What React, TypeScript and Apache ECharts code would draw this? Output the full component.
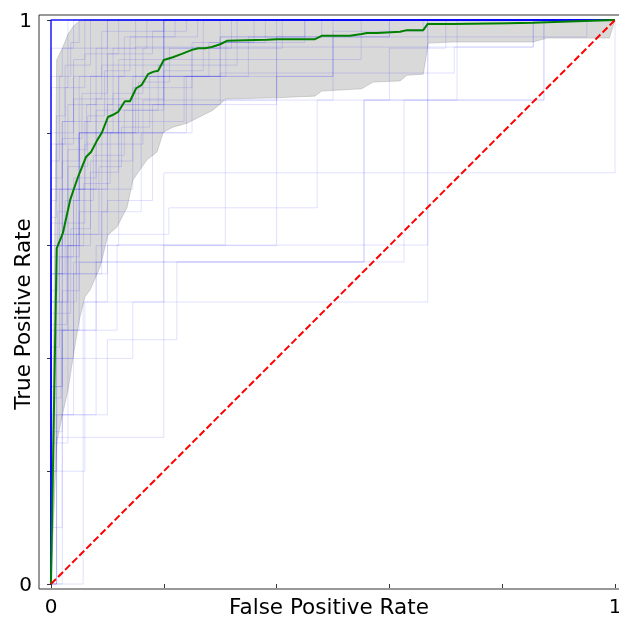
import React, { useEffect, useRef } from 'react';
import * as echarts from 'echarts';

// Mean ROC curve (green)
const MEAN_FPR = [0, 0.0101, 0.021, 0.034, 0.048, 0.062, 0.071, 0.082, 0.09, 0.101, 0.11, 0.119, 0.131, 0.14, 0.151, 0.161, 0.172, 0.181, 0.19, 0.2, 0.216, 0.232, 0.25, 0.261, 0.273, 0.285, 0.3, 0.312, 0.383, 0.401, 0.468, 0.48, 0.53, 0.551, 0.56, 0.578, 0.619, 0.631, 0.66, 0.668, 0.713, 0.855, 0.879, 1];
const MEAN_TPR = [0, 0.595, 0.622, 0.681, 0.722, 0.757, 0.766, 0.787, 0.8, 0.828, 0.832, 0.837, 0.856, 0.856, 0.879, 0.885, 0.904, 0.908, 0.91, 0.929, 0.934, 0.94, 0.947, 0.95, 0.95, 0.952, 0.957, 0.963, 0.965, 0.966, 0.966, 0.972, 0.972, 0.975, 0.977, 0.977, 0.979, 0.982, 0.982, 0.993, 0.993, 0.995, 0.996, 1];

// Confidence band (mean ± std)
const BAND_UPPER = [[0, 0], [0.0101, 0.929], [0.0202, 0.95], [0.0303, 0.975], [0.0404, 0.99], [0.0505, 0.998], [0.0606, 1], [1, 1]];
const BAND_LOWER = [[0, 0], [0.0101, 0.25], [0.0202, 0.3], [0.0303, 0.345], [0.0404, 0.41], [0.0505, 0.47], [0.0606, 0.51], [0.069, 0.521], [0.087, 0.562], [0.101, 0.619], [0.117, 0.633], [0.135, 0.668], [0.145, 0.716], [0.17, 0.752], [0.188, 0.766], [0.199, 0.801], [0.216, 0.81], [0.241, 0.817], [0.287, 0.84], [0.31, 0.86], [0.4, 0.862], [0.441, 0.864], [0.468, 0.865], [0.48, 0.874], [0.551, 0.878], [0.571, 0.89], [0.619, 0.892], [0.631, 0.902], [0.66, 0.904], [0.669, 0.959], [0.713, 0.961], [0.855, 0.961], [0.879, 0.968], [0.99, 0.968], [1, 1]];

const CHANCE = [[0, 0], [1, 1]];
const PERFECT = [[0, 0], [0, 1], [1, 1]];

// Bootstrap ROC curves: each [fpr, tpr] = at this FPR the TPR rises to this value
const BOOT_CURVES = [
  [[0.01, 0.26], [0.2, 0.729], [1, 1]],
  [[0, 0.35], [0.02, 0.62], [0.05, 0.8], [0.15, 0.952], [0.855, 1]],
  [[0, 0.4], [0.03, 0.7], [0.1, 0.85], [0.3, 0.906], [0.715, 0.952], [0.855, 1]],
  [[0, 0.3], [0.04, 0.571], [0.626, 0.858], [0.874, 1]],
  [[0.01, 0.45], [0.08, 0.571], [0.555, 0.858], [0.874, 1]],
  [[0, 0.2], [0.06, 0.5], [0.668, 1]],
  [[0.02, 0.45], [0.117, 0.601], [0.668, 1]],
  [[0, 0.5], [0.03, 0.62], [0.209, 0.667], [0.472, 0.858], [0.6, 0.95], [0.7, 1]],
  [[0, 0.55], [0.1, 0.601], [0.309, 0.858], [0.5, 0.97], [0.6, 1]],
  [[0.01, 0.3], [0.1, 0.433], [0.223, 0.571], [0.555, 0.858], [0.72, 1]],
  [[0, 0.25], [0.03, 0.4], [0.145, 0.5], [0.2, 0.6], [0.4, 0.9], [0.5, 1]],
  [[0, 0.6], [0.02, 0.75], [0.05, 0.9], [0.1, 1]],
  [[0, 0.7], [0.03, 0.85], [0.08, 0.95], [0.15, 1]],
  [[0, 0.5], [0.015, 0.7], [0.06, 0.82], [0.12, 0.93], [0.2, 1]],
  [[0, 0.8], [0.04, 0.93], [0.06, 1]],
  [[0, 0.45], [0.03, 0.6], [0.07, 0.75], [0.145, 0.88], [0.25, 0.96], [0.45, 1]],
  [[0, 0.65], [0.01, 0.78], [0.04, 0.86], [0.09, 0.92], [0.2, 1]],
  [[0, 0.55], [0.025, 0.68], [0.05, 0.8], [0.11, 0.87], [0.163, 0.95], [0.3, 1]],
  [[0, 0.72], [0.02, 0.82], [0.07, 0.9], [0.13, 0.97], [0.26, 1]],
  [[0, 0.4], [0.01, 0.55], [0.045, 0.7], [0.09, 0.8], [0.145, 0.9], [0.2, 1]],
  [[0, 0.88], [0.03, 1]],
  [[0, 0.6], [0.04, 0.72], [0.08, 0.84], [0.19, 0.92], [0.33, 1]],
  [[0, 0.75], [0.015, 0.9], [0.035, 0.96], [0.05, 1]],
  [[0, 0.5], [0.02, 0.64], [0.06, 0.78], [0.1, 0.9], [0.31, 0.96], [0.38, 1]],
  [[0, 0.62], [0.03, 0.77], [0.063, 0.85], [0.11, 0.95], [0.17, 1]],
  [[0, 0.35], [0.02, 0.52], [0.05, 0.66], [0.1, 0.78], [0.163, 0.858], [0.4, 0.97], [0.48, 1]],
  [[0, 0.68], [0.01, 0.83], [0.025, 0.92], [0.07, 1]],
  [[0, 0.58], [0.05, 0.7], [0.08, 0.86], [0.2, 0.93], [0.55, 1]],
  [[0, 0.9], [0.02, 0.95], [0.1, 1]],
  [[0, 0.48], [0.035, 0.63], [0.07, 0.73], [0.12, 0.82], [0.236, 0.9], [0.5, 0.98], [0.66, 1]],
  [[0, 0.2], [0.01, 0.4], [0.04, 0.55], [0.09, 0.7], [0.145, 0.8], [0.25, 0.95], [0.32, 1]],
  [[0, 0.1], [0.02, 0.3], [0.057, 0.5], [0.1, 0.68], [0.18, 0.85], [0.4, 1]],
  [[0, 0.55], [0.02, 0.82], [0.04, 0.9], [0.09, 0.98], [0.2, 1]],
  [[0, 0.7], [0.05, 0.8], [0.12, 0.9], [0.3, 0.97], [0.45, 1]],
  [[0, 0.95], [0.04, 1]],
  [[0.057, 0.3], [0.08, 0.6], [0.12, 0.85], [0.2, 1]],
  [[0, 0.27], [0.02, 0.45], [0.05, 0.57], [0.09, 0.66], [0.16, 0.8], [0.24, 0.9], [0.35, 0.97], [0.6, 1]],
  [[0, 0.6], [0.05, 0.8], [0.2, 0.9], [0.3, 0.97], [0.95, 1]],
  [[0, 0.42], [0.015, 0.58], [0.04, 0.68], [0.075, 0.76], [0.13, 0.84], [0.2, 0.91], [0.27, 1]],
  [[0, 0.78], [0.025, 0.88], [0.06, 0.94], [0.12, 1]],
  [[0, 0.52], [0.012, 0.66], [0.03, 0.74], [0.065, 0.83], [0.095, 0.91], [0.14, 0.97], [0.22, 1]],
  [[0, 0.33], [0.018, 0.5], [0.045, 0.62], [0.085, 0.74], [0.125, 0.81], [0.175, 0.9], [0.28, 0.96], [0.36, 1]],
  [[0, 0.64], [0.02, 0.79], [0.055, 0.87], [0.1, 0.94], [0.18, 0.98], [0.24, 1]],
  [[0, 0.46], [0.028, 0.6], [0.058, 0.71], [0.105, 0.8], [0.155, 0.89], [0.21, 0.95], [0.41, 1]],
];

const X_LABEL = 'False Positive Rate';
const Y_LABEL = 'True Positive Rate';
const TICK_LABELS: Record<string, string> = { '0': '0', '1': '1' };

function stairs(c: number[][]) {
  const pts: number[][] = [[0, 0]];
  let t = 0;
  for (const [f, tt] of c) {
    pts.push([f, t]);
    pts.push([f, tt]);
    t = tt;
  }
  pts.push([1, t]);
  pts.push([1, 1]);
  return pts;
}

export default function App() {
  const ref = useRef<HTMLDivElement>(null);
  useEffect(() => {
    if (!ref.current) return;
    const chart = echarts.init(ref.current, undefined, { renderer: 'svg' });
    const font = 'DejaVu Sans';
    const bandPoly = [...BAND_UPPER, ...BAND_LOWER.slice().reverse()];
    const series: any[] = [];
    BOOT_CURVES.forEach((c, i) => {
      series.push({
        type: 'line',
        name: 'boot' + i,
        data: stairs(c),
        symbol: 'none',
        silent: true,
        clip: false,
        lineStyle: { color: '#0000ff', width: 1, opacity: 0.12 },
      });
    });
    series.push({
      type: 'line',
      data: PERFECT,
      symbol: 'none',
      silent: true,
      clip: false,
      lineStyle: { color: '#0000ff', width: 1.5, opacity: 0.9 },
    });
    series.push({
      type: 'custom',
      data: [[0, 0]],
      silent: true,
      clip: false,
      renderItem: (params: any, api: any) => {
        const pts = bandPoly.map((p) => api.coord(p));
        return {
          type: 'polygon',
          shape: { points: pts },
          style: { fill: 'rgba(128,128,128,0.3)', stroke: 'rgba(128,128,128,0.3)', lineWidth: 1 },
        };
      },
    });
    series.push({
      type: 'line',
      data: MEAN_FPR.map((f, i) => [f, MEAN_TPR[i]]),
      symbol: 'none',
      silent: true,
      clip: false,
      lineStyle: { color: '#008000', width: 2 },
    });
    series.push({
      type: 'line',
      data: CHANCE,
      symbol: 'none',
      silent: true,
      clip: false,
      lineStyle: { color: '#ff0000', width: 2, type: [7, 3] },
    });

    const axisCommon = {
      type: 'value',
      min: 0,
      max: 1,
      interval: 0.2,
      splitLine: { show: false },
      axisLine: { show: false },
      axisTick: { show: true, length: 4, lineStyle: { color: '#333', width: 1 } },
    };

    chart.setOption({
      animation: false,
      grid: { left: 51, right: 4, top: 20, bottom: 34, containLabel: false, outerBoundsMode: 'none' },
      xAxis: {
        ...axisCommon,
        offset: 5,
        axisLabel: {
          fontFamily: font,
          fontSize: 20,
          lineHeight: 20,
          color: '#000',
          margin: 7,
          formatter: (v: number) => TICK_LABELS[String(v)] ?? '',
        },
      },
      yAxis: {
        ...axisCommon,
        offset: 12,
        axisLabel: {
          fontFamily: font,
          fontSize: 20,
          color: '#000',
          margin: 7,
          formatter: (v: number) => TICK_LABELS[String(v)] ?? '',
        },
      },
      graphic: [
        {
          type: 'rect',
          shape: { x: 39, y: 15, width: 600, height: 574 },
          style: { fill: 'none', stroke: '#333', lineWidth: 1 },
          silent: true,
          z: 100,
        },
        {
          type: 'text',
          x: 329,
          y: 606,
          style: { text: X_LABEL, font: `21.5px "${font}"`, fill: '#000', textAlign: 'center', textVerticalAlign: 'middle' },
          silent: true,
        },
        {
          type: 'text',
          x: 22,
          y: 314,
          rotation: Math.PI / 2,
          style: { text: Y_LABEL, font: `21.5px "${font}"`, fill: '#000', textAlign: 'center', textVerticalAlign: 'middle' },
          silent: true,
        },
      ],
      series,
    });
    return () => chart.dispose();
  }, []);
  return <div ref={ref} style={{ position: 'fixed', left: 0, top: 0, width: 619, height: 618 }} />;
}
